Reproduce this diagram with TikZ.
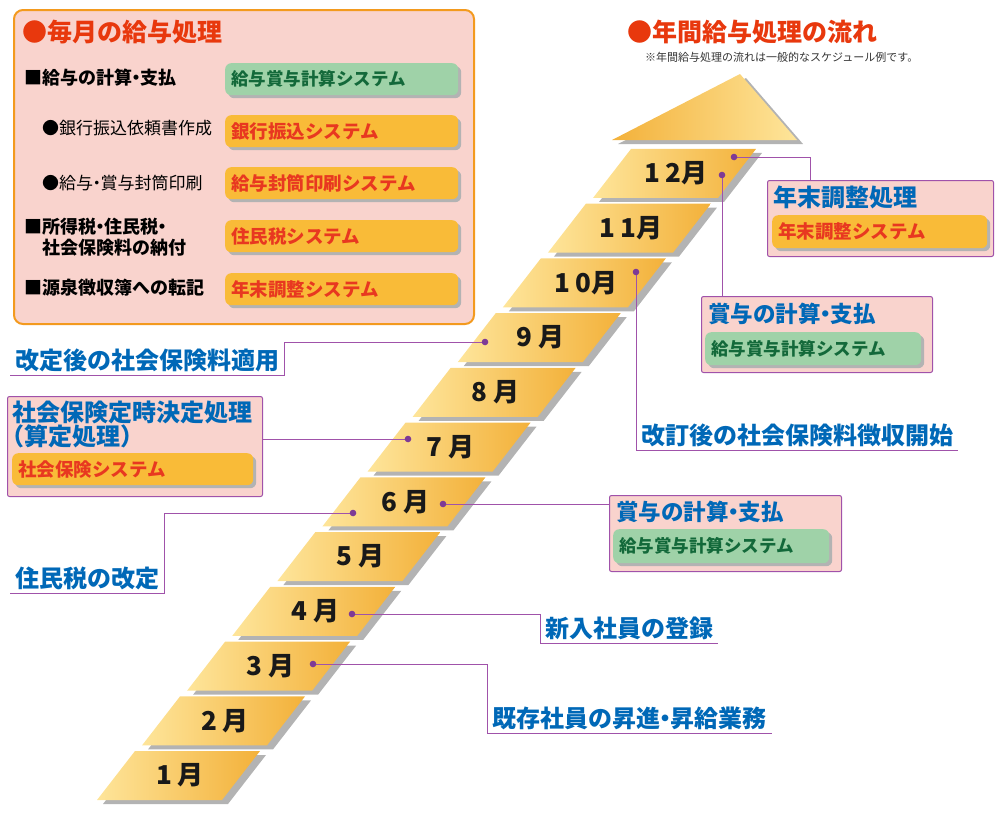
\documentclass[tikz,border=0pt]{standalone}
\usepackage{fontspec}
\setmainfont{Noto Sans CJK JP}
\usetikzlibrary{shadows}

\definecolor{pinkF}{HTML}{F9D3CD}
\definecolor{panelO}{HTML}{F39A1E}
\definecolor{titleR}{HTML}{E8380D}
\definecolor{blueT}{HTML}{0068B7}
\definecolor{lineP}{HTML}{A052AA}
\definecolor{dotP}{HTML}{7E3A96}
\definecolor{greenF}{HTML}{9FD2A8}
\definecolor{greenT}{HTML}{13693A}
\definecolor{sysF}{HTML}{F9BB38}
\definecolor{sysT}{HTML}{E83820}
\definecolor{shadeG}{HTML}{B3B3B3}
\definecolor{bandL}{HTML}{FEE59A}
\definecolor{bandR}{HTML}{F3B13A}

% 中黒を詰める
\newcommand{\ndot}{\kern-.28em・\kern-.28em}

\tikzset{
  band/.style={left color=bandL, right color=bandR},
  mon/.style={font=\fontsize{26}{26}\selectfont\bfseries, text=black!90, inner sep=0pt},
  panel/.style={draw=panelO, fill=pinkF, line width=2pt, rounded corners=9pt, anchor=north west, inner sep=0pt},
  pinkbox/.style={draw=lineP, fill=pinkF, line width=1pt, rounded corners=2pt, anchor=north west, inner sep=0pt},
  sysbox/.style={rounded corners=6pt, anchor=north west, inner xsep=6pt, inner ysep=0pt,
    minimum height=32, align=left, font=\fontsize{18.5}{18.5}\selectfont\bfseries,
    drop shadow={shadow xshift=3pt, shadow yshift=-3pt, fill=shadeG, opacity=1}},
  sysO/.style={sysbox, fill=sysF, text=sysT, text width=#1},
  sysG/.style={sysbox, fill=greenF, text=greenT, text width=#1, font=\fontsize{17.5}{17.5}\selectfont\bfseries},
  ttl/.style={font=\fontsize{22.5}{22.5}\selectfont\bfseries, text=blueT, inner sep=0pt, anchor=west},
  lbl/.style={font=\fontsize{24}{24}\selectfont\bfseries, text=blueT, inner xsep=5pt, inner ysep=3pt, anchor=south west},
  head/.style={font=\fontsize{25}{25}\selectfont\bfseries, text=titleR, inner sep=0pt, anchor=west},
  row/.style={font=\fontsize{18}{21}\selectfont\bfseries, inner sep=0pt, anchor=west, align=left},
  sub/.style={font=\fontsize{17}{17}\selectfont, inner sep=0pt, anchor=west},
  conn/.style={draw=lineP, line width=1pt},
  dot/.style={fill=dotP},
}

\begin{document}
\begin{tikzpicture}[x=1pt, y=-1pt]
  \useasboundingbox (0,0) rectangle (1000,820);

  % 毎月の処理
  \node[panel, minimum width=460, minimum height=314] (monthly) at (13,9) {};
  \node[head] (monthly-t) at (22,32) {●毎月の給与処理};
  \node[row] (r1) at (24,78) {■給与の計算\ndot 支払};
  \node[sub] (r2) at (42,128) {●銀行振込依頼書作成};
  \node[sub] (r3) at (42,183) {●給与\ndot 賞与封筒印刷};
  \node[row] (r4) at (24,237) {■所得税\ndot 住民税\ndot\\\phantom{■}社会保険料の納付};
  \node[row] (r5) at (24,288) {■源泉徴収簿への転記};
  \node[sysG=221pt] (s1) at (225,63) {給与賞与計算システム};
  \node[sysO=221pt] (s2) at (225,115) {銀行振込システム};
  \node[sysO=221pt] (s3) at (225,167) {給与封筒印刷システム};
  \node[sysO=221pt] (s4) at (225,220) {住民税システム};
  \node[sysO=221pt] (s5) at (225,273) {年末調整システム};

  % 年間の流れ
  \node[head] (yearly-t) at (627,32) {●年間給与処理の流れ};
  \node[font=\fontsize{11}{11}\selectfont, text=black!80, inner sep=0pt, anchor=west] (note) at (645,57)
    {※年間給与処理の流れは一般的なスケジュール例です。};

  % 矢印の先
  \fill[shadeG] (618,144) -- (746,78) -- (803,144) -- cycle;
  \shade[left color=bandR, right color=bandL] (612,140) -- (740,74) -- (797,140) -- cycle;

  % 月の段
  \foreach \k/\lab in {0/1 月,1/2 月,2/3 月,3/4 月,4/5 月,5/6 月,6/7 月,7/8 月,8/9 月,9/1 0月,10/1 1月,11/1 2月}{
    \pgfmathsetmacro{\bx}{97+45.09*\k}
    \pgfmathsetmacro{\by}{800-54.73*\k}
    \fill[shadeG] (\bx+6,\by+4) -- ++(125,0) -- ++(38,-49) -- ++(-125,0) -- cycle;
    \shade[band] (\bx,\by) -- ++(125,0) -- ++(38,-49) -- ++(-125,0) -- cycle;
    \node[mon] (mon\k) at (\bx+83,\by-24.5) {\lab};
  }

  % 説明の枠
  \node[pinkbox, minimum width=226, minimum height=76] (nenmatsu) at (767,180) {};
  \node[ttl, font=\fontsize{24}{24}\selectfont\bfseries] (nenmatsu-t) at (773,197) {年末調整処理};
  \node[sysO=203pt, minimum height=33] (nenmatsu-s) at (772,215) {年末調整システム};

  \node[pinkbox, minimum width=231, minimum height=76] (bonus1) at (701,296) {};
  \node[ttl] (bonus1-t) at (708,314) {賞与の計算\ndot 支払};
  \node[sysG=204pt, minimum height=33] (bonus1-s) at (705,332) {給与賞与計算システム};

  \node[pinkbox, minimum width=232, minimum height=76] (bonus2) at (609,495) {};
  \node[ttl] (bonus2-t) at (616,512) {賞与の計算\ndot 支払};
  \node[sysG=204pt, minimum height=34] (bonus2-s) at (613,529) {給与賞与計算システム};

  \node[pinkbox, minimum width=255, minimum height=100] (kenpo) at (7,396) {};
  \node[ttl, font=\fontsize{24}{24}\selectfont\bfseries, align=left, anchor=north west] (kenpo-t) at (12,401)
    {社会保険定時決定処理\\\kern-.5em（算定処理）};
  \node[sysO=229pt] (kenpo-s) at (12,453) {社会保険システム};

  % 下線つきの説明
  \node[lbl] (l10) at (636,450) {改訂後の社会保険料徴収開始};
  \node[lbl] (l9) at (10,375) {改定後の社会保険料適用};
  \node[lbl] (l6) at (10,593) {住民税の改定};
  \node[lbl] (l4) at (540,643) {新入社員の登録};
  \node[lbl] (l3) at (487,733) {既存社員の昇進\ndot 昇給業務};

  % 点と線
  \coordinate (d12a) at (734,157);
  \coordinate (d12b) at (722,175);
  \coordinate (d10) at (636,272);
  \coordinate (d9) at (485,342);
  \coordinate (d7) at (408,439);
  \coordinate (d6L) at (353,513);
  \coordinate (d6R) at (443,504);
  \coordinate (d4) at (352,614);
  \coordinate (d3) at (313,664);
  \coordinate (c12) at (810,180);

  \draw[conn] (d12a) -| (c12);
  \draw[conn] (d12b) -- (d12b |- bonus1.north);
  \draw[conn] (d10) -- (l10.south west) -- (l10.south east);
  \draw[conn] (d9) -| (l9.south east) -- (l9.south west);
  \draw[conn] (d7) -- (d7 -| kenpo.east);
  \draw[conn] (d6L) -| (l6.south east) -- (l6.south west);
  \draw[conn] (d6R) -- (d6R -| bonus2.west);
  \draw[conn] (d4) -| (l4.south west) -- (l4.south east);
  \draw[conn] (d3) -| (l3.south west) -- (l3.south east);
  \foreach \d in {d12a,d12b,d10,d9,d7,d6L,d6R,d4,d3}
    \fill[dot] (\d) circle (3.3);
\end{tikzpicture}
\end{document}
